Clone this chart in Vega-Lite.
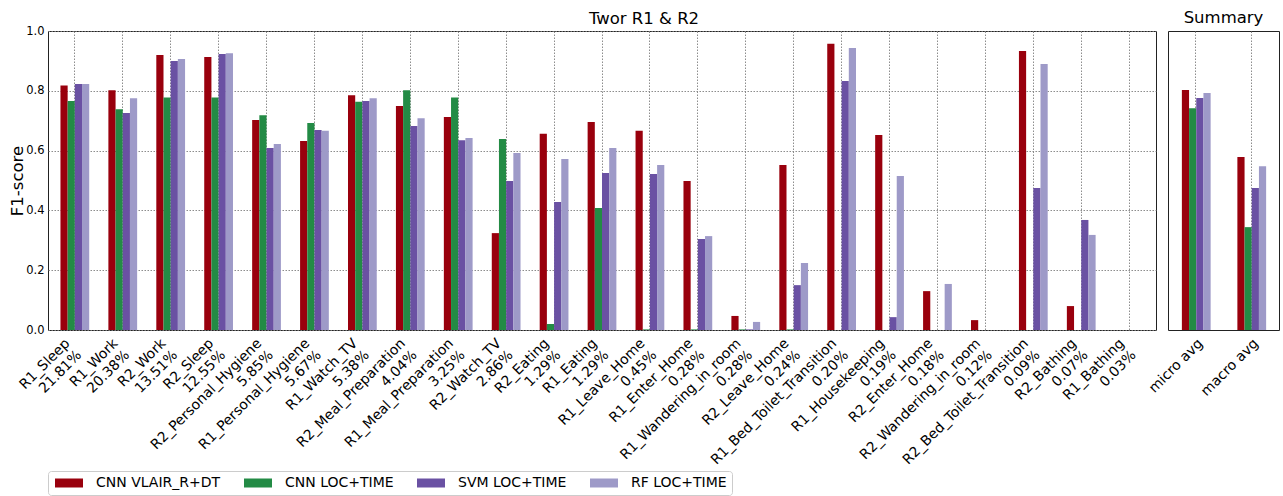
{
  "$schema": "https://vega.github.io/schema/vega-lite/v6.json",
  "padding": {"left": 8, "top": 9, "right": 0, "bottom": 0},
  "background": "white",
  "bounds": "flush",
  "config": {
    "font": "DejaVu Sans",
    "view": {"stroke": "#222222", "strokeWidth": 1},
    "axis": {
      "labelFont": "DejaVu Sans",
      "labelFontSize": 14,
      "labelColor": "#000000",
      "titleFont": "DejaVu Sans",
      "titleFontSize": 16.5,
      "titleFontWeight": "normal",
      "titleColor": "#000000",
      "gridColor": "#808080",
      "gridDash": [1.5, 1.5],
      "gridWidth": 0.9,
      "domain": false,
      "ticks": false
    },
    "title": {"font": "DejaVu Sans", "fontSize": 16.5, "fontWeight": "normal", "color": "#000000"},
    "legend": {
      "orient": "none",
      "legendX": 0,
      "legendY": 440,
      "direction": "horizontal",
      "symbolType": "M-2.8,-0.9H2.8V0.9H-2.8Z",
      "symbolSize": 100,
      "symbolOffset": 9,
      "symbolStrokeWidth": 0,
      "symbolOpacity": 1,
      "labelFont": "DejaVu Sans",
      "labelFontSize": 14,
      "labelColor": "#000000",
      "columnPadding": 21,
      "labelOffset": 20,
      "padding": 5,
      "strokeColor": "#cccccc",
      "cornerRadius": 3,
      "fillColor": "white",
      "labelLimit": 300
    }
  },
  "datasets": {
    "main": [
      {"activity": "R1_Sleep|21.81%", "model": "CNN VLAIR_R+DT", "f1": 0.818},
      {"activity": "R1_Sleep|21.81%", "model": "CNN LOC+TIME", "f1": 0.766},
      {"activity": "R1_Sleep|21.81%", "model": "SVM LOC+TIME", "f1": 0.823},
      {"activity": "R1_Sleep|21.81%", "model": "RF LOC+TIME", "f1": 0.823},
      {"activity": "R1_Work|20.38%", "model": "CNN VLAIR_R+DT", "f1": 0.802},
      {"activity": "R1_Work|20.38%", "model": "CNN LOC+TIME", "f1": 0.738},
      {"activity": "R1_Work|20.38%", "model": "SVM LOC+TIME", "f1": 0.726},
      {"activity": "R1_Work|20.38%", "model": "RF LOC+TIME", "f1": 0.775},
      {"activity": "R2_Work|13.51%", "model": "CNN VLAIR_R+DT", "f1": 0.920},
      {"activity": "R2_Work|13.51%", "model": "CNN LOC+TIME", "f1": 0.778},
      {"activity": "R2_Work|13.51%", "model": "SVM LOC+TIME", "f1": 0.900},
      {"activity": "R2_Work|13.51%", "model": "RF LOC+TIME", "f1": 0.906},
      {"activity": "R2_Sleep|12.55%", "model": "CNN VLAIR_R+DT", "f1": 0.913},
      {"activity": "R2_Sleep|12.55%", "model": "CNN LOC+TIME", "f1": 0.778},
      {"activity": "R2_Sleep|12.55%", "model": "SVM LOC+TIME", "f1": 0.923},
      {"activity": "R2_Sleep|12.55%", "model": "RF LOC+TIME", "f1": 0.926},
      {"activity": "R2_Personal_Hygiene|5.85%", "model": "CNN VLAIR_R+DT", "f1": 0.702},
      {"activity": "R2_Personal_Hygiene|5.85%", "model": "CNN LOC+TIME", "f1": 0.718},
      {"activity": "R2_Personal_Hygiene|5.85%", "model": "SVM LOC+TIME", "f1": 0.609},
      {"activity": "R2_Personal_Hygiene|5.85%", "model": "RF LOC+TIME", "f1": 0.622},
      {"activity": "R1_Personal_Hygiene|5.67%", "model": "CNN VLAIR_R+DT", "f1": 0.632},
      {"activity": "R1_Personal_Hygiene|5.67%", "model": "CNN LOC+TIME", "f1": 0.692},
      {"activity": "R1_Personal_Hygiene|5.67%", "model": "SVM LOC+TIME", "f1": 0.669},
      {"activity": "R1_Personal_Hygiene|5.67%", "model": "RF LOC+TIME", "f1": 0.666},
      {"activity": "R1_Watch_TV|5.38%", "model": "CNN VLAIR_R+DT", "f1": 0.785},
      {"activity": "R1_Watch_TV|5.38%", "model": "CNN LOC+TIME", "f1": 0.763},
      {"activity": "R1_Watch_TV|5.38%", "model": "SVM LOC+TIME", "f1": 0.766},
      {"activity": "R1_Watch_TV|5.38%", "model": "RF LOC+TIME", "f1": 0.775},
      {"activity": "R2_Meal_Preparation|4.04%", "model": "CNN VLAIR_R+DT", "f1": 0.749},
      {"activity": "R2_Meal_Preparation|4.04%", "model": "CNN LOC+TIME", "f1": 0.802},
      {"activity": "R2_Meal_Preparation|4.04%", "model": "SVM LOC+TIME", "f1": 0.682},
      {"activity": "R2_Meal_Preparation|4.04%", "model": "RF LOC+TIME", "f1": 0.708},
      {"activity": "R1_Meal_Preparation|3.25%", "model": "CNN VLAIR_R+DT", "f1": 0.712},
      {"activity": "R1_Meal_Preparation|3.25%", "model": "CNN LOC+TIME", "f1": 0.778},
      {"activity": "R1_Meal_Preparation|3.25%", "model": "SVM LOC+TIME", "f1": 0.635},
      {"activity": "R1_Meal_Preparation|3.25%", "model": "RF LOC+TIME", "f1": 0.642},
      {"activity": "R2_Watch_TV|2.86%", "model": "CNN VLAIR_R+DT", "f1": 0.324},
      {"activity": "R2_Watch_TV|2.86%", "model": "CNN LOC+TIME", "f1": 0.639},
      {"activity": "R2_Watch_TV|2.86%", "model": "SVM LOC+TIME", "f1": 0.498},
      {"activity": "R2_Watch_TV|2.86%", "model": "RF LOC+TIME", "f1": 0.592},
      {"activity": "R2_Eating|1.29%", "model": "CNN VLAIR_R+DT", "f1": 0.656},
      {"activity": "R2_Eating|1.29%", "model": "CNN LOC+TIME", "f1": 0.020},
      {"activity": "R2_Eating|1.29%", "model": "SVM LOC+TIME", "f1": 0.428},
      {"activity": "R2_Eating|1.29%", "model": "RF LOC+TIME", "f1": 0.572},
      {"activity": "R1_Eating|1.29%", "model": "CNN VLAIR_R+DT", "f1": 0.696},
      {"activity": "R1_Eating|1.29%", "model": "CNN LOC+TIME", "f1": 0.408},
      {"activity": "R1_Eating|1.29%", "model": "SVM LOC+TIME", "f1": 0.525},
      {"activity": "R1_Eating|1.29%", "model": "RF LOC+TIME", "f1": 0.609},
      {"activity": "R1_Leave_Home|0.45%", "model": "CNN VLAIR_R+DT", "f1": 0.666},
      {"activity": "R1_Leave_Home|0.45%", "model": "CNN LOC+TIME", "f1": 0.002},
      {"activity": "R1_Leave_Home|0.45%", "model": "SVM LOC+TIME", "f1": 0.522},
      {"activity": "R1_Leave_Home|0.45%", "model": "RF LOC+TIME", "f1": 0.552},
      {"activity": "R1_Enter_Home|0.28%", "model": "CNN VLAIR_R+DT", "f1": 0.498},
      {"activity": "R1_Enter_Home|0.28%", "model": "CNN LOC+TIME", "f1": 0.002},
      {"activity": "R1_Enter_Home|0.28%", "model": "SVM LOC+TIME", "f1": 0.304},
      {"activity": "R1_Enter_Home|0.28%", "model": "RF LOC+TIME", "f1": 0.314},
      {"activity": "R1_Wandering_in_room|0.28%", "model": "CNN VLAIR_R+DT", "f1": 0.047},
      {"activity": "R1_Wandering_in_room|0.28%", "model": "CNN LOC+TIME", "f1": 0.002},
      {"activity": "R1_Wandering_in_room|0.28%", "model": "SVM LOC+TIME", "f1": 0.002},
      {"activity": "R1_Wandering_in_room|0.28%", "model": "RF LOC+TIME", "f1": 0.027},
      {"activity": "R2_Leave_Home|0.24%", "model": "CNN VLAIR_R+DT", "f1": 0.552},
      {"activity": "R2_Leave_Home|0.24%", "model": "CNN LOC+TIME", "f1": 0.002},
      {"activity": "R2_Leave_Home|0.24%", "model": "SVM LOC+TIME", "f1": 0.150},
      {"activity": "R2_Leave_Home|0.24%", "model": "RF LOC+TIME", "f1": 0.224},
      {"activity": "R1_Bed_Toilet_Transition|0.20%", "model": "CNN VLAIR_R+DT", "f1": 0.957},
      {"activity": "R1_Bed_Toilet_Transition|0.20%", "model": "CNN LOC+TIME", "f1": 0.0},
      {"activity": "R1_Bed_Toilet_Transition|0.20%", "model": "SVM LOC+TIME", "f1": 0.833},
      {"activity": "R1_Bed_Toilet_Transition|0.20%", "model": "RF LOC+TIME", "f1": 0.943},
      {"activity": "R1_Housekeeping|0.19%", "model": "CNN VLAIR_R+DT", "f1": 0.652},
      {"activity": "R1_Housekeeping|0.19%", "model": "CNN LOC+TIME", "f1": 0.0},
      {"activity": "R1_Housekeeping|0.19%", "model": "SVM LOC+TIME", "f1": 0.043},
      {"activity": "R1_Housekeeping|0.19%", "model": "RF LOC+TIME", "f1": 0.515},
      {"activity": "R2_Enter_Home|0.18%", "model": "CNN VLAIR_R+DT", "f1": 0.130},
      {"activity": "R2_Enter_Home|0.18%", "model": "CNN LOC+TIME", "f1": 0.0},
      {"activity": "R2_Enter_Home|0.18%", "model": "SVM LOC+TIME", "f1": 0.0},
      {"activity": "R2_Enter_Home|0.18%", "model": "RF LOC+TIME", "f1": 0.154},
      {"activity": "R2_Wandering_in_room|0.12%", "model": "CNN VLAIR_R+DT", "f1": 0.033},
      {"activity": "R2_Wandering_in_room|0.12%", "model": "CNN LOC+TIME", "f1": 0.0},
      {"activity": "R2_Wandering_in_room|0.12%", "model": "SVM LOC+TIME", "f1": 0.0},
      {"activity": "R2_Wandering_in_room|0.12%", "model": "RF LOC+TIME", "f1": 0.0},
      {"activity": "R2_Bed_Toilet_Transition|0.09%", "model": "CNN VLAIR_R+DT", "f1": 0.933},
      {"activity": "R2_Bed_Toilet_Transition|0.09%", "model": "CNN LOC+TIME", "f1": 0.0},
      {"activity": "R2_Bed_Toilet_Transition|0.09%", "model": "SVM LOC+TIME", "f1": 0.475},
      {"activity": "R2_Bed_Toilet_Transition|0.09%", "model": "RF LOC+TIME", "f1": 0.890},
      {"activity": "R2_Bathing|0.07%", "model": "CNN VLAIR_R+DT", "f1": 0.080},
      {"activity": "R2_Bathing|0.07%", "model": "CNN LOC+TIME", "f1": 0.0},
      {"activity": "R2_Bathing|0.07%", "model": "SVM LOC+TIME", "f1": 0.368},
      {"activity": "R2_Bathing|0.07%", "model": "RF LOC+TIME", "f1": 0.318},
      {"activity": "R1_Bathing|0.03%", "model": "CNN VLAIR_R+DT", "f1": 0.0},
      {"activity": "R1_Bathing|0.03%", "model": "CNN LOC+TIME", "f1": 0.0},
      {"activity": "R1_Bathing|0.03%", "model": "SVM LOC+TIME", "f1": 0.0},
      {"activity": "R1_Bathing|0.03%", "model": "RF LOC+TIME", "f1": 0.0}
    ],
    "summary": [
      {"activity": "micro avg", "model": "CNN VLAIR_R+DT", "f1": 0.803},
      {"activity": "micro avg", "model": "CNN LOC+TIME", "f1": 0.742},
      {"activity": "micro avg", "model": "SVM LOC+TIME", "f1": 0.776},
      {"activity": "micro avg", "model": "RF LOC+TIME", "f1": 0.793},
      {"activity": "macro avg", "model": "CNN VLAIR_R+DT", "f1": 0.579},
      {"activity": "macro avg", "model": "CNN LOC+TIME", "f1": 0.344},
      {"activity": "macro avg", "model": "SVM LOC+TIME", "f1": 0.475},
      {"activity": "macro avg", "model": "RF LOC+TIME", "f1": 0.548}
    ]
  },
  "spacing": 12,
  "resolve": {"scale": {"color": "shared"}, "legend": {"color": "shared"}},
  "hconcat": [
    {
      "width": 1108,
      "height": 299,
      "data": {"name": "main"},
      "title": {"text": "Twor R1 & R2", "frame": "group", "anchor": "middle", "dx": 42, "offset": -2},
      "mark": {"type": "bar"},
      "encoding": {
        "x": {
          "field": "activity", "type": "nominal", "sort": null,
          "scale": {"paddingInner": 0.4, "paddingOuter": 0.26},
          "axis": {
            "title": null, "labelAngle": -45, "labelAlign": "right", "labelBaseline": "top",
            "labelExpr": "split(datum.value, '|')", "labelOffset": -12, "labelPadding": 6,
            "labelLineHeight": 16.5, "labelOverlap": false, "labelLimit": 400, "labelBound": false,
            "grid": true, "bandPosition": 0.5
          }
        },
        "xOffset": {
          "field": "model", "type": "nominal",
          "sort": ["CNN VLAIR_R+DT", "CNN LOC+TIME", "SVM LOC+TIME", "RF LOC+TIME"],
          "scale": {"paddingInner": 0, "paddingOuter": 0}
        },
        "y": {
          "field": "f1", "type": "quantitative",
          "scale": {"domain": [0, 1], "nice": false},
          "axis": {
            "title": "F1-score", "values": [0, 0.2, 0.4, 0.6, 0.8, 1.0], "format": ".1f", "grid": true,
            "labelFontSize": 11.5, "labelPadding": 4,
            "titleX": -31, "titleY": 149.5, "titleBaseline": "middle", "titleAlign": "center", "titleAngle": -90
          }
        },
        "color": {
          "field": "model", "type": "nominal", "title": null,
          "sort": ["CNN VLAIR_R+DT", "CNN LOC+TIME", "SVM LOC+TIME", "RF LOC+TIME"],
          "scale": {"domain": ["CNN VLAIR_R+DT", "CNN LOC+TIME", "SVM LOC+TIME", "RF LOC+TIME"], "range": ["#99000d", "#238b45", "#6a51a3", "#9e9ac8"]}
        }
      }
    },
    {
      "width": 111,
      "height": 299,
      "data": {"name": "summary"},
      "title": {"text": "Summary", "frame": "group", "anchor": "middle", "offset": 5},
      "mark": {"type": "bar"},
      "encoding": {
        "x": {
          "field": "activity", "type": "nominal", "sort": null,
          "scale": {"paddingInner": 0.5, "paddingOuter": 0.25},
          "axis": {
            "title": null, "labelAngle": -45, "labelAlign": "right", "labelBaseline": "top",
            "labelPadding": 6, "labelOverlap": false, "labelLimit": 400, "labelBound": false,
            "grid": true, "bandPosition": 0.5
          }
        },
        "xOffset": {
          "field": "model", "type": "nominal",
          "sort": ["CNN VLAIR_R+DT", "CNN LOC+TIME", "SVM LOC+TIME", "RF LOC+TIME"],
          "scale": {"paddingInner": 0, "paddingOuter": 0}
        },
        "y": {
          "field": "f1", "type": "quantitative",
          "scale": {"domain": [0, 1], "nice": false},
          "axis": null
        },
        "color": {
          "field": "model", "type": "nominal", "title": null,
          "sort": ["CNN VLAIR_R+DT", "CNN LOC+TIME", "SVM LOC+TIME", "RF LOC+TIME"]
        }
      }
    }
  ]
}
